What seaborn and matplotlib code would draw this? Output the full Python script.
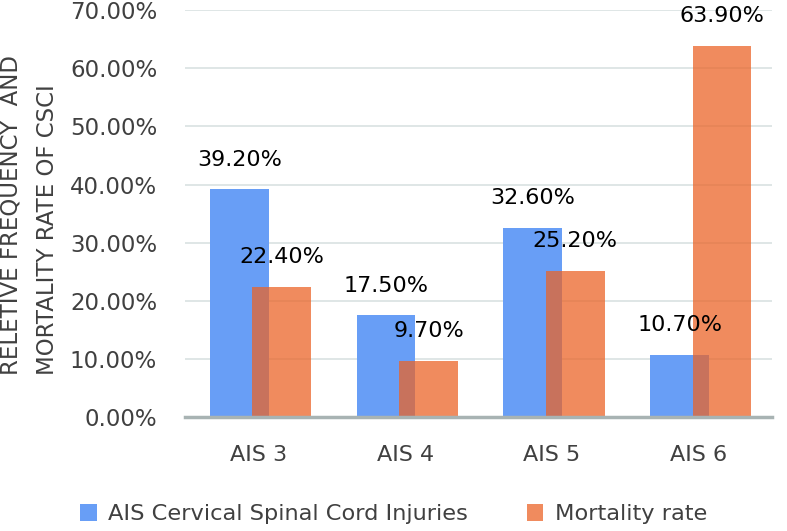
import pandas as pd
import matplotlib
matplotlib.use("Agg")
import matplotlib.pyplot as plt
import seaborn as sns

levels = ["AIS 3", "AIS 4", "AIS 5", "AIS 6"]
injuries = [39.2, 17.5, 32.6, 10.7]
mortality = [22.4, 9.7, 25.2, 63.9]
series_names = ["AIS Cervical Spinal Cord Injuries", "Mortality rate"]
y_ticks = [0, 10, 20, 30, 40, 50, 60, 70]

df = pd.DataFrame({
    "level": levels * 2,
    "value": injuries + mortality,
    "series": [series_names[0]] * 4 + [series_names[1]] * 4,
})

sns.set_style("white")
plt.rcParams["font.family"] = ["DejaVu Sans"]

fig = plt.figure(figsize=(7.87, 5.31), dpi=100)
ax = fig.add_axes([0.235, 0.2147, 0.746, 0.766])

sns.barplot(data=df, x="level", y="value", hue="series",
            palette=["#689EF6", "#EB6326"], width=0.8, dodge=True,
            legend=False, ax=ax, saturation=1, linewidth=0)

# overlapping bars, orange one semi-transparent on top
for p in ax.containers[0]:
    p.set_x(p.get_x() + 0.07)
for p in ax.containers[1]:
    p.set_x(p.get_x() - 0.04)
    p.set_alpha(0.74)

for c in ax.containers:
    ax.bar_label(c, labels=[f"{v:.2f}%" for v in c.datavalues],
                 padding=14, fontsize=16, color="black")

ax.set_ylim(0, 70)
ax.set_xlim(-0.5, 3.5)
ax.set_yticks(y_ticks)
ax.set_yticklabels([f"{v:.2f}%" for v in y_ticks])
ax.set_xlabel("")
ax.set_ylabel("")
ax.tick_params(axis="y", length=0, pad=20, labelsize=16.5, labelcolor="#404040")
ax.tick_params(axis="x", length=0, pad=20, labelsize=16, labelcolor="#404040")
ax.yaxis.grid(True, color="#DCE4E4", lw=1.3)
ax.set_axisbelow(True)
for s in ["left", "right", "top"]:
    ax.spines[s].set_visible(False)
ax.spines["bottom"].set_color("#A8B3B3")
ax.spines["bottom"].set_linewidth(2.5)

fig.text(0.037, 0.595, "RELETIVE FREQUENCY  AND\nMORTALITY RATE OF CSCI",
         rotation=90, ha="center", va="center", multialignment="left",
         fontsize=16.5, color="#404040", linespacing=1.75)

fig.legend(handles=[ax.containers[0], ax.containers[1]], labels=series_names,
           loc="lower center", bbox_to_anchor=(0.5, -0.025), ncol=2, frameon=False,
           fontsize=16.2, handlelength=0.75, handleheight=0.8, handletextpad=0.5,
           columnspacing=2.6, labelcolor="#404040")

fig.savefig("out.png", dpi=100)
